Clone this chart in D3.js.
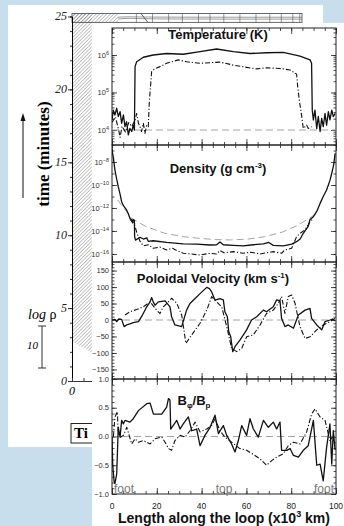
<!DOCTYPE html>
<html>
<head>
<meta charset="utf-8">
<script src="https://cdn.jsdelivr.net/npm/d3@7/dist/d3.min.js"></script>
<style>
  body { margin: 0; background: #c8deec; }
  svg { display: block; }
  text { font-family: "Liberation Sans", Arial, sans-serif; }
  .serif { font-family: "Liberation Serif", "Times New Roman", serif; }
</style>
</head>
<body>
<svg id="chart" width="344" height="526"></svg>
<script>
// values: [length along loop (x10^3 km), value]
// temperature and density are given as log10
var tempSolid = [[0,4.27],[0.6,4.53],[1.3,4.4],[2.1,4.58],[2.8,4.36],[3.6,4.49],[4.3,4.18],[5.1,4.4],[5.8,4.09],[6.5,4.22],[7.3,3.87],[8.0,4.04],[8.8,3.96],[9.5,4.13],[10.0,4.0],[10.3,5.69],[11.0,5.82],[12.5,5.88],[14.0,5.94],[18.4,6.0],[24.4,6.04],[31.8,6.02],[39.3,6.09],[46.7,6.16],[54.2,6.09],[61.6,6.04],[69.0,6.06],[76.5,6.07],[83.9,5.97],[88.4,5.87],[89.1,5.78],[89.4,4.53],[89.9,4.27],[90.6,4.53],[91.4,4.04],[92.1,4.36],[92.9,3.96],[93.6,4.31],[94.3,4.09],[95.1,4.44],[95.8,4.13],[96.6,4.49],[97.3,4.27],[98.1,4.53],[98.8,4.36],[99.6,4.44]];
var tempDashDot = [[0,4.2],[1.5,4.35],[3.0,4.0],[3.6,3.8],[4.5,4.1],[6.0,3.95],[7.5,4.2],[8.8,4.09],[10.3,4.27],[11.0,4.44],[11.8,4.18],[12.5,4.09],[13.2,3.96],[14.0,4.18],[14.7,3.91],[15.5,4.13],[16.2,4.09],[16.7,4.8],[17.3,5.24],[17.7,5.56],[19.2,5.64],[21.4,5.69],[24.4,5.78],[29.6,5.87],[33.3,5.82],[39.3,5.78],[45.2,5.8],[48.2,5.81],[54.2,5.73],[60.1,5.67],[64.6,5.63],[69.0,5.66],[75.0,5.64],[79.5,5.6],[82.4,5.49],[82.9,5.16],[83.6,4.8],[84.7,4.36],[85.4,4.04],[86.9,4.13],[87.6,4.04],[89.1,4.09]];
var tempDashed = [[0,4],[100,4]];

var densSolid = [[0,-6.96],[0.6,-7.6],[1.3,-8.7],[2.1,-9.5],[2.8,-10.15],[3.6,-10.8],[4.3,-11.45],[5.1,-11.8],[6.5,-12.17],[7.3,-12.5],[8.0,-12.9],[8.8,-13.04],[9.2,-13.3],[9.5,-13.0],[10.0,-13.1],[10.1,-14.5],[10.5,-14.8],[11.8,-14.64],[12.5,-14.55],[14.0,-14.7],[15.5,-14.6],[16.2,-14.9],[18.4,-14.85],[24.4,-15.0],[31.8,-15.13],[37.8,-15.15],[43.8,-15.22],[46.7,-15.2],[48.2,-14.95],[49.7,-15.2],[54.2,-15.25],[58.6,-15.3],[63.1,-15.2],[67.6,-15.13],[70.0,-15.0],[72.0,-15.25],[76.5,-15.3],[80.2,-15.15],[82.4,-14.93],[84.0,-14.7],[85.4,-14.2],[87.6,-13.6],[88.4,-13.0],[89.1,-12.9],[89.9,-12.76],[91.4,-12.3],[92.9,-11.6],[94.3,-11.0],[95.8,-10.43],[97.3,-9.6],[98.1,-8.98],[99.0,-8.2],[99.6,-7.24]];
var densDashDot = [[8.0,-13.0],[9.5,-13.3],[10.3,-13.6],[11.0,-14.1],[12.5,-14.9],[14.0,-15.3],[16.2,-15.2],[18.4,-15.5],[21.4,-15.4],[24.4,-15.65],[27.0,-15.5],[28.9,-15.7],[31.8,-15.94],[35.0,-16.0],[39.3,-16.09],[43.8,-15.94],[46.7,-16.0],[48.2,-15.7],[50.0,-15.9],[54.2,-15.8],[58.6,-15.94],[62.0,-15.85],[66.1,-16.0],[69.0,-15.9],[72.0,-15.8],[75.7,-15.94],[77.2,-15.65],[80.2,-15.5],[82.4,-14.5],[84.0,-14.2],[86.2,-13.9],[88.4,-13.2],[89.9,-12.9]];
var densDashed = [[2.5,-11.3],[4.0,-11.7],[8.8,-12.9],[15.0,-13.6],[23.5,-14.2],[31.8,-14.5],[38.4,-14.63],[46.0,-14.75],[53.3,-14.78],[61.0,-14.7],[68.2,-14.5],[76.0,-14.1],[83.0,-13.5],[88.0,-12.9],[90.5,-12.6],[92.0,-12.3]];

var velSolid = [[0,0],[1.3,2],[2.1,-5],[3.0,3],[4.3,2],[5.4,-20],[6.5,-15],[8.0,-12],[9.5,-8],[11.8,-5],[13.2,10],[15.5,40],[17.0,55],[17.7,68],[18.4,55],[19.2,45],[20.7,55],[23.7,58],[25.9,40],[26.6,10],[28.1,-15],[31.1,-20],[33.3,30],[34.8,50],[37.1,65],[39.3,80],[42.3,99],[43.5,95],[44.5,85],[46.0,60],[48.2,65],[49.7,61],[50.4,25],[51.5,10],[52.1,-35],[53.0,-51],[53.9,-96],[54.9,-81],[57.1,-61],[60.1,-30],[62.3,0],[64.6,10],[67.6,30],[69.0,25],[72.0,40],[73.5,61],[75.0,58],[75.7,5],[77.2,-20],[78.7,-15],[81.0,-25],[83.2,15],[86.2,30],[88.4,35],[89.1,5],[91.4,-15],[93.6,-30],[95.1,-5],[97.3,0],[98.5,3],[99.6,-3]];
var velDashDot = [[5.8,15],[8.0,25],[11.0,32],[14.0,40],[17.0,55],[19.9,30],[21.4,20],[22.9,40],[25.2,55],[26.6,66],[28.9,51],[31.1,15],[33.0,-71],[35.6,-45],[39.3,-10],[42.3,30],[44.5,71],[46.7,55],[49.0,40],[51.2,-20],[53.4,-86],[55.7,-96],[57.9,-86],[60.1,-51],[63.1,-45],[66.1,-15],[69.0,20],[72.0,30],[74.3,51],[75.7,71],[77.2,20],[78.7,71],[80.2,76],[81.7,51],[83.9,-20],[86.2,-56],[88.4,-51],[91.4,-30],[94.3,-15],[97.3,-5],[99.6,5]];
var velDashed = [[0,0],[100,0]];

var bSolid = [[0,0.0],[0.3,-0.48],[0.9,-0.77],[1.3,-0.82],[2.1,-0.65],[2.8,0.16],[3.6,-0.01],[4.3,0.28],[5.1,0.22],[5.8,0.28],[8.0,0.25],[9.5,0.31],[11.8,0.45],[15.5,0.57],[17.0,0.58],[18.5,0.39],[22.2,0.39],[24.4,0.51],[25.2,0.66],[25.9,0.63],[26.2,0.13],[28.9,0.28],[30.4,0.13],[31.8,0.22],[34.1,0.34],[35.6,0.1],[37.8,0.13],[39.3,-0.16],[41.5,0.02],[43.8,0.16],[46.0,0.37],[47.5,0.05],[49.7,0.19],[51.2,0.02],[53.4,-0.13],[54.9,-0.27],[56.4,-0.07],[57.9,0.19],[60.1,0.02],[61.6,0.31],[63.1,0.13],[65.3,-0.01],[67.6,0.28],[69.8,0.16],[72.0,0.25],[73.5,0.13],[75.0,0.25],[75.7,-0.24],[78.0,-0.24],[79.5,-0.21],[81.0,-0.33],[83.2,-0.36],[85.4,-0.24],[87.6,-0.16],[89.9,0.28],[91.4,-0.5],[92.9,-0.48],[94.3,-0.77],[95.8,-0.19],[97.3,0.22],[98.1,-0.48],[98.8,0.1],[99.6,-0.24]];
var bDashDot = [[0.6,-0.01],[1.3,0.34],[2.4,0.43],[2.8,0.05],[3.9,-0.01],[5.1,0.02],[6.6,0.16],[8.8,-0.13],[10.3,-0.04],[11.8,-0.1],[14.0,-0.07],[17.0,-0.13],[19.2,-0.04],[22.2,-0.01],[23.7,-0.1],[25.2,-0.21],[26.6,-0.24],[28.1,-0.07],[30.4,0.02],[32.6,-0.01],[34.8,0.1],[37.1,0.25],[39.3,0.08],[42.3,0.13],[44.5,0.19],[46.0,0.31],[48.2,0.1],[50.4,-0.01],[53.4,-0.1],[57.1,-0.21],[60.1,-0.24],[63.8,-0.33],[66.1,-0.39],[69.0,-0.5],[71.3,-0.42],[73.5,-0.36],[76.5,-0.3],[78.7,-0.16],[81.0,-0.1],[83.9,-0.13],[86.9,0.08],[89.1,0.39],[90.6,0.48],[92.9,0.34],[95.1,0.28],[97.3,-0.07],[98.8,0.02]];
var bDashed = [[0,0],[100,0]];

// tick labels
var xTicks = [0, 20, 40, 60, 80, 100];
var tempExps = [4, 5, 6];
var densExps = [-16, -14, -12, -10, -8];
var velTicks = [-150, -100, -50, 0, 50, 100, 150];
var bTicks = [-1.0, -0.5, 0.0, 0.5, 1.0];
var loopMarks = ["foot", "top", "foot"];
var loopMarkAt = [0, 50, 100];

// background (time) figure
var timeTicks = [0, 5, 10, 15, 20, 25];
var stripLines = [28, 35, 42, 48, 55, 60, 66, 73, 80, 86, 91, 96, 99];
var hatchEdge = [[0, 2.7], [8.6, 1.95]];

var svg = d3.select("#chart");
var defs = svg.append("defs");

defs.append("pattern")
    .attr("id", "hatch")
    .attr("patternUnits", "userSpaceOnUse")
    .attr("width", 2.5).attr("height", 2.5)
    .attr("patternTransform", "rotate(45)")
    .append("line")
    .attr("x1", 0).attr("y1", 0).attr("x2", 0).attr("y2", 2.5)
    .attr("stroke", "#6d6d6d").attr("stroke-width", 0.8);

// ---------- background figure ----------
var bg = svg.append("g");
var tY = d3.scaleLinear().domain([0, 25]).range([381, 16.5]);
var tX = d3.scaleLinear().domain([0, 100]).range([72, 302]);

bg.append("rect")
    .attr("x", 8).attr("y", 5)
    .attr("width", 315).attr("height", 442)
    .attr("fill", "#fff");

// hatched column and top strip
bg.append("path")
    .attr("d", d3.line()([
        [tX(0), tY(25.2)], [tX(hatchEdge[1][0]), tY(25.2)],
        [tX(hatchEdge[1][0]), tY(hatchEdge[1][1])], [tX(hatchEdge[0][0]), tY(hatchEdge[0][1])]
    ]))
    .attr("fill", "url(#hatch)");
bg.append("rect")
    .attr("x", tX(0)).attr("y", tY(25.2))
    .attr("width", tX(20) - tX(0)).attr("height", tY(24.6) - tY(25.2))
    .attr("fill", "url(#hatch)");
bg.append("rect")
    .attr("x", tX(0)).attr("y", tY(25.2))
    .attr("width", tX(100) - tX(0)).attr("height", tY(24.6) - tY(25.2))
    .attr("fill", "none").attr("stroke", "#444").attr("stroke-width", 0.8);
[24.95, 24.82].forEach(function (t, i) {
    bg.append("path")
        .attr("d", d3.line().curve(d3.curveBasis)([
            [tX(20), tY(t)], [tX(25), tY(t + 0.04 * (i + 1))], [tX(30), tY(t)], [tX(100), tY(t)]
        ]))
        .attr("fill", "none").attr("stroke", "#555").attr("stroke-width", 0.6);
});
bg.selectAll(".strip")
    .data(stripLines)
    .enter().append("line")
    .attr("x1", function (d) { return tX(d); })
    .attr("x2", function (d) { return tX(d); })
    .attr("y1", tY(25.2)).attr("y2", tY(24.6))
    .attr("stroke", "#555").attr("stroke-width", 0.6);
bg.append("line")
    .attr("x1", tX(30)).attr("x2", tX(33)).attr("y1", tY(25.2)).attr("y2", tY(24.6))
    .attr("stroke", "#333").attr("stroke-width", 0.8);

// time axis
var tAxis = bg.append("g")
    .attr("transform", "translate(" + tX(0) + ",0)")
    .call(d3.axisLeft(tY).tickValues(d3.range(0, 26, 1)).tickSize(2).tickFormat(""));
tAxis.select(".domain").attr("stroke", "#333");
tAxis.selectAll(".tick line").attr("stroke", "#333");
bg.append("g")
    .attr("transform", "translate(" + tX(0) + ",0)")
    .call(d3.axisLeft(tY).tickValues(timeTicks).tickSize(4).tickSizeOuter(0).tickFormat(""))
    .selectAll("line").attr("stroke", "#333");
bg.selectAll(".tlabel")
    .data(timeTicks)
    .enter().append("text")
    .attr("class", "serif")
    .attr("x", tX(0) - 5)
    .attr("y", function (d) { return tY(d); })
    .attr("dy", "0.3em")
    .attr("text-anchor", "end")
    .attr("font-size", 12).attr("font-style", "italic")
    .attr("fill", "#222")
    .text(function (d) { return d; });

var lAxis = bg.append("g")
    .attr("transform", "translate(0," + tY(0) + ")")
    .call(d3.axisBottom(tX).tickValues([0, 5, 10]).tickSize(-3).tickSizeOuter(0).tickFormat(""));
lAxis.selectAll("line, path").attr("stroke", "#333");
bg.append("text")
    .attr("class", "serif")
    .attr("x", tX(0)).attr("y", tY(0) + 14)
    .attr("text-anchor", "middle")
    .attr("font-size", 12).attr("font-style", "italic")
    .text("0");

bg.append("text")
    .attr("class", "serif")
    .attr("transform", "translate(49,154) rotate(-90)")
    .attr("text-anchor", "middle")
    .attr("font-size", 17).attr("font-weight", "bold")
    .text("time  (minutes)");
bg.append("line")
    .attr("x1", 23).attr("x2", 23).attr("y1", 198).attr("y2", 119)
    .attr("stroke", "#111").attr("stroke-width", 1);
bg.append("path")
    .attr("d", "M23,113L20.5,121L25.5,121Z")
    .attr("fill", "#111");

var logRho = bg.append("text")
    .attr("class", "serif")
    .attr("x", 28).attr("y", 319)
    .attr("font-size", 14);
logRho.append("tspan").attr("font-style", "italic").text("log");
logRho.append("tspan").text(" ρ");
bg.append("path")
    .attr("d", "M38,326H46M42,326V368M38,368H46")
    .attr("stroke", "#333").attr("fill", "none");
bg.append("text")
    .attr("class", "serif")
    .attr("x", 27).attr("y", 349)
    .attr("font-size", 11).attr("font-style", "italic")
    .text("10");

// boxed caption, only its first letters show beside the front figure
bg.append("rect")
    .attr("x", 71).attr("y", 423.5)
    .attr("width", 80).attr("height", 19.5)
    .attr("fill", "#fff").attr("stroke", "#222");
bg.append("text")
    .attr("class", "serif")
    .attr("x", 74).attr("y", 438)
    .attr("font-size", 15).attr("font-weight", "bold")
    .text("Ti");

// ---------- main figure ----------
svg.append("rect")
    .attr("x", 92).attr("y", 23)
    .attr("width", 252).attr("height", 503)
    .attr("fill", "#fff");

var x = d3.scaleLinear().domain([0, 100]).range([112, 336]);

var yTemp = d3.scaleLog().domain([Math.pow(10, 3.6), Math.pow(10, 6.72)]).range([145, 28]);
var yDens = d3.scaleLog().domain([Math.pow(10, -16.7), Math.pow(10, -6.52)]).range([262, 145]);
var yVel = d3.scaleLinear().domain([-179, 176]).range([379, 262]);
var yB = d3.scaleLinear().domain([-1.0, 1.0]).range([494, 379]);

function pow10(d) { return [d[0], Math.pow(10, d[1])]; }

function drawPanel(y, major, minor, series, label) {
    var r = y.range();
    var top = r[1], bottom = r[0];
    var g = svg.append("g");
    var id = "clip" + Math.round(top);

    defs.append("clipPath").attr("id", id)
        .append("rect")
        .attr("x", x(0)).attr("y", top)
        .attr("width", x(100) - x(0)).attr("height", bottom - top);

    var axes = g.append("g").attr("class", "axes");
    // x ticks on both edges, pointing inward
    [[d3.axisBottom, bottom, -3, -6], [d3.axisTop, top, -3, -6]].forEach(function (a) {
        var s = axes.append("g").attr("transform", "translate(0," + a[1] + ")");
        s.append("g").call(a[0](x).tickValues(d3.range(0, 101, 5)).tickSize(a[2]).tickSizeOuter(0).tickFormat(""));
        s.append("g").call(a[0](x).tickValues(xTicks).tickSize(a[3]).tickSizeOuter(0).tickFormat(""));
    });
    // y ticks on both edges, pointing inward
    [[d3.axisLeft, x(0)], [d3.axisRight, x(100)]].forEach(function (a) {
        var s = axes.append("g").attr("transform", "translate(" + a[1] + ",0)");
        s.append("g").call(a[0](y).tickValues(minor).tickSize(-2.5).tickSizeOuter(0).tickFormat(""));
        s.append("g").call(a[0](y).tickValues(major).tickSize(-5).tickSizeOuter(0).tickFormat(""));
    });
    axes.selectAll(".domain").remove();
    axes.selectAll("line").attr("stroke", "#222").attr("stroke-width", 0.8);

    g.append("rect")
        .attr("x", x(0)).attr("y", top)
        .attr("width", x(100) - x(0)).attr("height", bottom - top)
        .attr("fill", "none").attr("stroke", "#222").attr("stroke-width", 1);

    var line = d3.line()
        .x(function (d) { return x(d[0]); })
        .y(function (d) { return y(d[1]); });

    var lines = g.append("g").attr("clip-path", "url(#" + id + ")");
    series.forEach(function (s) {
        lines.append("path")
            .datum(s.data)
            .attr("d", line)
            .attr("fill", "none")
            .attr("stroke", s.color)
            .attr("stroke-width", s.width)
            .attr("stroke-dasharray", s.dash)
            .attr("stroke-linejoin", "round");
    });

    var labels = g.selectAll(".ylabel")
        .data(major)
        .enter().append("text")
        .attr("class", "ylabel")
        .attr("x", x(0) - 3)
        .attr("y", function (d) { return y(d); })
        .attr("dy", "0.35em")
        .attr("text-anchor", "end")
        .attr("font-size", 7.5)
        .attr("fill", "#333");
    label(labels);
}

function logLabel(sel) {
    sel.each(function (d) {
        var t = d3.select(this);
        var e = Math.round(Math.log10(d));
        t.append("tspan").text("10");
        t.append("tspan").attr("dy", -3).attr("font-size", 5.5)
            .text(e < 0 ? "\u2212" + Math.abs(e) : e);
    });
}

function numLabel(fmt) {
    return function (sel) {
        sel.text(function (d) { return fmt(d).replace("-", "\u2212"); });
    };
}

var solid = function (data) { return {data: data, color: "#111", width: 1.3, dash: null}; };
var dashDot = function (data) { return {data: data, color: "#111", width: 1.1, dash: "5,2,1.2,2"}; };
var dashed = function (data) { return {data: data, color: "#9a9a9a", width: 0.9, dash: "7,4"}; };

// panel 1: temperature
var tempMinor = yTemp.ticks().filter(function (v) { return v >= yTemp.domain()[0] && v <= yTemp.domain()[1]; });
drawPanel(yTemp, tempExps.map(function (e) { return Math.pow(10, e); }), tempMinor,
    [dashed(tempDashed.map(pow10)), dashDot(tempDashDot.map(pow10)), solid(tempSolid.map(pow10))], logLabel);

// panel 2: density
var densMinor = d3.range(-16, -6).map(function (e) { return Math.pow(10, e); });
drawPanel(yDens, densExps.map(function (e) { return Math.pow(10, e); }), densMinor,
    [dashed(densDashed.map(pow10)), dashDot(densDashDot.map(pow10)), solid(densSolid.map(pow10))], logLabel);

// panel 3: poloidal velocity
drawPanel(yVel, velTicks, d3.range(-170, 171, 10),
    [dashed(velDashed), dashDot(velDashDot), solid(velSolid)], numLabel(d3.format("d")));

// panel 4: Bphi / Bp
drawPanel(yB, bTicks, d3.range(-10, 11).map(function (v) { return v / 10; }),
    [dashed(bDashed), dashDot(bDashDot), solid(bSolid)], numLabel(d3.format(".1f")));

// panel titles
function title(xc, yb, parts) {
    var t = svg.append("text")
        .attr("x", xc).attr("y", yb)
        .attr("text-anchor", "middle")
        .attr("font-size", 13).attr("font-weight", "bold")
        .attr("fill", "#111");
    parts.forEach(function (p) {
        var s = t.append("tspan").text(p[0]);
        if (p[1]) s.attr("dy", p[1]).attr("font-size", p[2]);
    });
}
title(218, 39, [["Temperature (K)"]]);
title(218, 173, [["Density (g cm"], ["-3", -5, 8], [")", 5, 13]]);
title(213, 283, [["Poloidal Velocity (km s"], ["-1", -5, 8], [")", 5, 13]]);
title(194, 405, [["B"], ["\u03c6", 3, 8], ["/B", -3, 13], ["p", 3, 8]]);

// foot / top / foot marks
svg.selectAll(".mark")
    .data(loopMarks)
    .enter().append("text")
    .attr("x", function (d, i) { return x(loopMarkAt[i]) + [2, 0, -2][i]; })
    .attr("y", yB(-1) - 1)
    .attr("text-anchor", function (d, i) { return ["start", "middle", "end"][i]; })
    .attr("font-size", 12)
    .attr("fill", "#777")
    .text(function (d) { return d; });

// x tick labels and title
svg.selectAll(".xlabel")
    .data(xTicks)
    .enter().append("text")
    .attr("x", function (d) { return x(d); })
    .attr("y", yB(-1) + 15)
    .attr("text-anchor", "middle")
    .attr("font-size", 8.5)
    .attr("fill", "#222")
    .text(function (d) { return d; });

var xt = svg.append("text")
    .attr("x", x(50)).attr("y", 523)
    .attr("text-anchor", "middle")
    .attr("font-size", 14).attr("font-weight", "bold")
    .attr("fill", "#111");
xt.append("tspan").text("Length along the loop (x10");
xt.append("tspan").attr("dy", -6).attr("font-size", 9).text("3");
xt.append("tspan").attr("dy", 6).text(" km)");
</script>
</body>
</html>
